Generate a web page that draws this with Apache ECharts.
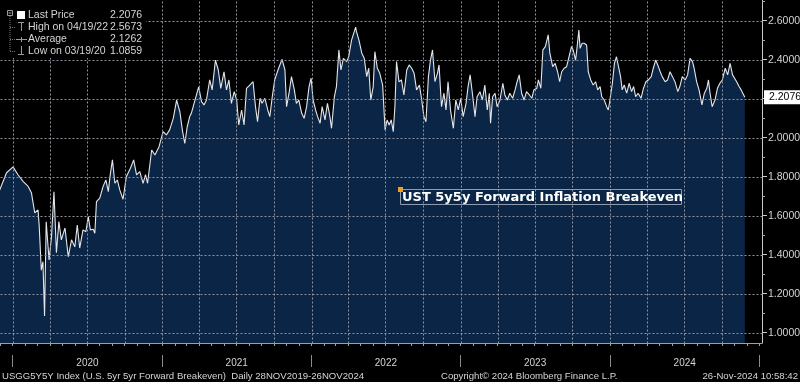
<!DOCTYPE html>
<html><head><meta charset="utf-8">
<script src="https://cdn.jsdelivr.net/npm/echarts@6/dist/echarts.min.js"></script>
<style>html,body{margin:0;padding:0;background:#000;}#c{width:800px;height:382px;}</style>
</head><body><div id="c"></div>
<script>
// ---- data ----
const dates = [
'2019-11-28','2019-12-17','2020-01-02','2020-01-14','2020-01-27','2020-02-08','2020-02-16','2020-02-24','2020-03-03','2020-03-06',
'2020-03-11','2020-03-15','2020-03-19','2020-03-23','2020-03-30','2020-04-05','2020-04-11','2020-04-17','2020-04-23','2020-04-29',
'2020-05-08','2020-05-16','2020-05-24','2020-06-01','2020-06-07','2020-06-13','2020-06-21','2020-06-28','2020-07-04','2020-07-09',
'2020-07-16','2020-07-20','2020-07-24','2020-08-01','2020-08-09','2020-08-16','2020-08-22','2020-08-26','2020-09-01','2020-09-07',
'2020-09-13','2020-09-19','2020-09-27','2020-10-05','2020-10-15','2020-10-23','2020-10-30','2020-11-07','2020-11-15','2020-11-21',
'2020-11-26','2020-12-06','2020-12-14','2020-12-24','2021-01-03','2021-01-11','2021-01-19','2021-01-28','2021-02-05','2021-02-13',
'2021-02-19','2021-02-25','2021-03-03','2021-03-09','2021-03-13','2021-03-22','2021-03-31','2021-04-07','2021-04-13','2021-04-19',
'2021-04-27','2021-05-03','2021-05-11','2021-05-18','2021-05-24','2021-06-01','2021-06-07','2021-06-13','2021-06-19','2021-06-26',
'2021-07-02','2021-07-07','2021-07-14','2021-07-20','2021-07-26','2021-08-03','2021-08-11','2021-08-17','2021-08-22','2021-08-28',
'2021-09-02','2021-09-09','2021-09-16','2021-09-21','2021-09-27','2021-10-03','2021-10-11','2021-10-21','2021-10-28','2021-11-01',
'2021-11-07','2021-11-13','2021-11-20','2021-11-25','2021-12-01','2021-12-08','2021-12-14','2021-12-20','2021-12-26','2021-12-31',
'2022-01-05','2022-01-11','2022-01-16','2022-01-22','2022-01-27','2022-02-03','2022-02-09','2022-02-15','2022-02-19','2022-02-26',
'2022-03-03','2022-03-09','2022-03-14','2022-03-20','2022-03-28','2022-04-02','2022-04-09','2022-04-19','2022-04-21','2022-04-27',
'2022-05-04','2022-05-10','2022-05-16','2022-05-21','2022-05-26','2022-06-01','2022-06-05','2022-06-11','2022-06-17','2022-06-24',
'2022-06-27','2022-06-30','2022-07-05','2022-07-10','2022-07-15','2022-07-20','2022-07-24','2022-07-28','2022-08-03','2022-08-09',
'2022-08-15','2022-08-22','2022-08-28','2022-09-03','2022-09-09','2022-09-15','2022-09-22','2022-09-27','2022-10-03','2022-10-08',
'2022-10-14','2022-10-19','2022-10-24','2022-10-30','2022-11-05','2022-11-09','2022-11-15','2022-11-21','2022-11-26','2022-12-01',
'2022-12-07','2022-12-14','2022-12-20','2022-12-26','2023-01-01','2023-01-07','2023-01-14','2023-01-19','2023-01-24','2023-01-30',
'2023-02-05','2023-02-10','2023-02-17','2023-02-23','2023-03-01','2023-03-07','2023-03-12','2023-03-15','2023-03-20','2023-03-26',
'2023-03-31','2023-04-07','2023-04-14','2023-04-19','2023-04-25','2023-05-01','2023-05-08','2023-05-14','2023-05-19','2023-05-24',
'2023-05-30','2023-06-05','2023-06-11','2023-06-18','2023-06-24','2023-06-29','2023-07-06','2023-07-10','2023-07-16','2023-07-21',
'2023-07-27','2023-07-31','2023-08-03','2023-08-07','2023-08-14','2023-08-20','2023-08-26','2023-08-31','2023-09-05','2023-09-11',
'2023-09-17','2023-09-23','2023-09-29','2023-10-03','2023-10-09','2023-10-12','2023-10-17','2023-10-20','2023-10-25','2023-10-30',
'2023-11-05','2023-11-09','2023-11-15','2023-11-21','2023-11-27','2023-12-02','2023-12-08','2023-12-12','2023-12-18','2023-12-24',
'2023-12-28','2024-01-01','2024-01-07','2024-01-12','2024-01-17','2024-01-22','2024-01-27','2024-01-31','2024-02-05','2024-02-11',
'2024-02-17','2024-02-23','2024-02-28','2024-03-04','2024-03-10','2024-03-17','2024-03-23','2024-03-29','2024-04-04','2024-04-11',
'2024-04-16','2024-04-22','2024-04-27','2024-05-03','2024-05-08','2024-05-15','2024-05-21','2024-05-27','2024-06-02','2024-06-08',
'2024-06-15','2024-06-20','2024-06-26','2024-07-03','2024-07-09','2024-07-15','2024-07-21','2024-07-25','2024-07-31','2024-08-06',
'2024-08-13','2024-08-19','2024-08-25','2024-08-29','2024-09-02','2024-09-07','2024-09-14','2024-09-20','2024-09-26','2024-10-02',
'2024-10-09','2024-10-15','2024-10-21','2024-10-27','2024-10-31','2024-11-06','2024-11-12','2024-11-17','2024-11-26'
];
const values = [
1.72,1.82,1.85,1.81,1.775,1.75,1.716,1.614,1.63,1.544,
1.32,1.364,1.0859,1.569,1.373,1.492,1.723,1.41,1.57,1.476,
1.537,1.39,1.476,1.44,1.552,1.434,1.527,1.518,1.595,1.527,
1.53,1.51,1.672,1.69,1.749,1.783,1.723,1.80,1.886,1.766,
1.783,1.732,1.684,1.80,1.843,1.886,1.809,1.826,1.766,1.81,
1.766,1.937,1.911,1.954,2.031,2.014,2.04,2.10,2.193,2.133,
2.04,1.97,2.056,2.108,2.125,2.193,2.26,2.185,2.168,2.193,
2.296,2.245,2.398,2.347,2.253,2.338,2.245,2.296,2.176,2.236,
2.193,2.065,2.142,2.065,2.253,2.27,2.287,2.159,2.082,2.202,
2.176,2.202,2.142,2.108,2.21,2.296,2.347,2.402,2.347,2.159,
2.228,2.313,2.245,2.176,2.193,2.125,2.099,2.159,2.262,2.305,
2.193,2.142,2.108,2.074,2.159,2.091,2.176,2.108,2.048,2.21,
2.262,2.45,2.347,2.407,2.39,2.415,2.50,2.5673,2.544,2.50,
2.433,2.407,2.313,2.356,2.193,2.262,2.441,2.356,2.33,2.27,
2.279,2.04,2.091,2.065,2.091,2.031,2.159,2.39,2.287,2.296,
2.219,2.347,2.373,2.356,2.33,2.245,2.27,2.202,2.108,2.082,
2.313,2.398,2.45,2.287,2.33,2.373,2.159,2.228,2.142,2.287,
2.142,2.048,2.193,2.142,2.202,2.108,2.176,2.262,2.322,2.219,
2.108,2.21,2.236,2.193,2.27,2.142,2.228,2.074,2.21,2.228,
2.159,2.193,2.279,2.219,2.193,2.228,2.202,2.245,2.287,2.322,
2.228,2.193,2.236,2.219,2.202,2.245,2.253,2.296,2.253,2.45,
2.467,2.458,2.527,2.433,2.364,2.381,2.338,2.287,2.338,2.356,
2.364,2.415,2.467,2.45,2.398,2.45,2.552,2.458,2.484,2.484,
2.475,2.338,2.296,2.27,2.287,2.245,2.262,2.21,2.193,2.159,
2.142,2.193,2.279,2.381,2.415,2.364,2.313,2.245,2.27,2.228,
2.279,2.236,2.262,2.21,2.228,2.202,2.253,2.287,2.296,2.313,
2.356,2.398,2.373,2.338,2.313,2.287,2.296,2.338,2.313,2.287,
2.236,2.262,2.313,2.296,2.322,2.407,2.39,2.356,2.287,2.245,
2.168,2.228,2.253,2.296,2.228,2.159,2.193,2.253,2.279,2.296,
2.356,2.322,2.381,2.322,2.33,2.287,2.262,2.245,2.2076
];
const yGridTicks = [1.0,1.2,1.4,1.6,1.8,2.0,2.2,2.4,2.6];
const yLabelTicks = [1.0,1.2,1.4,1.6,1.8,2.0,2.4,2.6];
const yMinorTicks = [1.1,1.3,1.5,1.7,1.9,2.1,2.3,2.5,2.7];
const yearLabels = ['2020','2021','2022','2023','2024'];
const legendNames = ['Last Price','High on 04/19/22','Average','Low on 03/19/20'];
const legendValues = ['2.2076','2.5673','2.1262','1.0859'];
const lastValue = 2.2076;
const annotationText = 'UST 5y5y Forward Inflation Breakeven';
const footerLeft = 'USGG5Y5Y Index (U.S. 5yr 5yr Forward Breakeven)  Daily 28NOV2019-26NOV2024';
const footerMid = 'Copyright\u00A9 2024 Bloomberg Finance L.P.';
const footerRight = '26-Nov-2024 10:58:42';

// ---- axis helper values (tick positions, as timestamps on a value axis) ----
const ts = s => { const p = s.split('-').map(Number); return Date.UTC(p[0], p[1]-1, p[2]); };
const xMin = ts('2019-12-01'), xMax = ts('2025-01-07');
const monthTicks = [], quarterTicks = [], yearTicks = [], yearMids = [];
for (let y = 2019; y <= 2025; y++) {
  for (let m = 0; m < 12; m++) {
    const t = Date.UTC(y, m, 1);
    if (t < xMin || t > xMax) continue;
    monthTicks.push(t);
    if (m % 3 === 0 && t < ts('2025-01-01')) quarterTicks.push(t);
    if (m === 0) yearTicks.push(t);
  }
}
yearLabels.forEach(y => yearMids.push(Date.UTC(+y, 6, 2)));

const FONT = '"Liberation Sans", Arial, sans-serif';
const TXT = '#d4d4d4';
const chart = echarts.init(document.getElementById('c'), null, {renderer: 'canvas'});
const yMin = 0.947, yMax = 2.706;

// dotted grid lines, drawn through the axes as a custom series above the area
const gridSegs = [];
yGridTicks.forEach(v => gridSegs.push([xMin, v, xMax, v]));
quarterTicks.forEach(t => gridSegs.push([t, yMin, t, yMax]));

const legendGraphics = [];
legendGraphics.push({type: 'rect', z: 100, shape: {x: 0, y: 0, width: 146, height: 58}, style: {fill: '#000'}});
const rowY = [15, 27, 39, 51];
const LF = '10.5px ' + FONT;
legendNames.forEach((n, i) => {
  legendGraphics.push({type: 'text', z: 101, style: {text: n, x: 28, y: rowY[i], fill: TXT, font: LF, verticalAlign: 'middle'}});
  legendGraphics.push({type: 'text', z: 101, style: {text: legendValues[i], x: 110, y: rowY[i], fill: TXT, font: LF, verticalAlign: 'middle'}});
});
const G = '#9a9a9a';
legendGraphics.push(
  {type: 'rect', z: 101, shape: {x: 7.5, y: 10.5, width: 5, height: 5}, style: {fill: 'none', stroke: G, lineWidth: 1}},
  {type: 'line', z: 101, shape: {x1: 8.5, y1: 13, x2: 11.5, y2: 13}, style: {stroke: G}},
  {type: 'line', z: 101, shape: {x1: 10, y1: 16, x2: 10, y2: 51}, style: {stroke: '#777', lineDash: [1, 1]}},
  {type: 'line', z: 101, shape: {x1: 10, y1: 27.5, x2: 15, y2: 27.5}, style: {stroke: '#777', lineDash: [1, 1]}},
  {type: 'line', z: 101, shape: {x1: 10, y1: 39.5, x2: 15, y2: 39.5}, style: {stroke: '#777', lineDash: [1, 1]}},
  {type: 'line', z: 101, shape: {x1: 10, y1: 51.5, x2: 15, y2: 51.5}, style: {stroke: '#777', lineDash: [1, 1]}},
  {type: 'rect', z: 101, shape: {x: 17, y: 11, width: 8, height: 8}, style: {fill: '#fff'}},
  {type: 'line', z: 101, shape: {x1: 18, y1: 22.5, x2: 24, y2: 22.5}, style: {stroke: G}},
  {type: 'line', z: 101, shape: {x1: 21.5, y1: 22.5, x2: 21.5, y2: 31}, style: {stroke: G}},
  {type: 'line', z: 101, shape: {x1: 16, y1: 39.5, x2: 27, y2: 39.5}, style: {stroke: G}},
  {type: 'line', z: 101, shape: {x1: 21.5, y1: 37, x2: 21.5, y2: 42}, style: {stroke: G}},
  {type: 'line', z: 101, shape: {x1: 21.5, y1: 46, x2: 21.5, y2: 54.5}, style: {stroke: G}},
  {type: 'line', z: 101, shape: {x1: 18, y1: 54.5, x2: 24, y2: 54.5}, style: {stroke: G}}
);

const FF = '9.6px ' + FONT;
const option = {
  backgroundColor: '#000',
  animation: false,
  grid: {left: 0, right: 38, top: 0, bottom: 39, containLabel: false, outerBoundsMode: 'none'},
  xAxis: [
    {type: 'value', min: xMin, max: xMax, position: 'bottom', scale: true,
     axisLine: {show: true, onZero: false, lineStyle: {color: '#a0a0a0', width: 1}},
     axisTick: {show: true, customValues: monthTicks, length: 3, inside: false, lineStyle: {color: '#a0a0a0'}},
     axisLabel: {show: false}, splitLine: {show: false}},
    {type: 'value', min: xMin, max: xMax, position: 'bottom', offset: 12, scale: true,
     axisLine: {show: false, onZero: false},
     axisTick: {show: true, customValues: yearTicks, length: 12, inside: false, lineStyle: {color: '#8a8a8a'}},
     axisLabel: {show: true, customValues: yearMids, margin: 3, color: TXT, fontSize: 10, fontFamily: FONT,
       formatter: v => yearLabels[yearMids.indexOf(v)] || ''},
     splitLine: {show: false}}
  ],
  yAxis: [
    {type: 'value', position: 'right', min: yMin, max: yMax,
     axisLine: {show: true, onZero: false, lineStyle: {color: '#c8c8c8', width: 1}},
     axisTick: {show: true, customValues: yGridTicks, length: 5, lineStyle: {color: '#c8c8c8'}},
     axisLabel: {show: true, customValues: yLabelTicks, formatter: v => v.toFixed(4), color: TXT, fontSize: 10.5, fontFamily: FONT, margin: 6},
     splitLine: {show: false}},
    {type: 'value', position: 'right', min: yMin, max: yMax,
     axisLine: {show: false, onZero: false},
     axisTick: {show: true, customValues: yMinorTicks, length: 3, lineStyle: {color: '#a8a8a8'}},
     axisLabel: {show: false}, splitLine: {show: false}},
    {type: 'value', position: 'right', min: yMin, max: yMax,
     axisLine: {show: false, onZero: false}, axisTick: {show: false}, splitLine: {show: false},
     axisLabel: {show: true, customValues: [lastValue], formatter: v => v.toFixed(4), color: '#000', backgroundColor: '#fff',
       padding: [2, 4, 1, 5], fontSize: 10.5, fontFamily: FONT, margin: 2}}
  ],
  series: [{
    type: 'line', xAxisIndex: 0, yAxisIndex: 0, z: 2,
    data: dates.map((d, i) => [ts(d), values[i]]),
    symbol: 'none', showSymbol: false, clip: true,
    lineStyle: {color: '#e4e6ea', width: 1.1},
    areaStyle: {color: '#0b2546', opacity: 1, origin: 'start'}
  }, {
    type: 'custom', xAxisIndex: 0, yAxisIndex: 0, z: 5, silent: true,
    data: gridSegs,
    encode: {x: [0, 2], y: [1, 3]},
    renderItem: (params, api) => {
      const p1 = api.coord([api.value(0), api.value(1)]);
      const p2 = api.coord([api.value(2), api.value(3)]);
      return {type: 'line', shape: {x1: Math.round(p1[0]) + 0.5, y1: Math.round(p1[1]) + 0.5, x2: Math.round(p2[0]) + 0.5, y2: Math.round(p2[1]) + 0.5},
        style: {stroke: '#8e939c', lineWidth: 1, lineDash: [2, 2], fill: null}};
    }
  }],
  graphic: [
    ...legendGraphics,
    {type: 'rect', z: 50, shape: {x: 400.5, y: 189.5, width: 281, height: 15}, style: {fill: 'none', stroke: '#8f9bb0', lineWidth: 1}},
    {type: 'rect', z: 51, shape: {x: 398, y: 187, width: 5, height: 5}, style: {fill: '#f0a020'}},
    {type: 'text', z: 51, style: {text: annotationText, x: 402, y: 197.5, fill: '#ffffff', font: 'bold 13px "DejaVu Sans", sans-serif', verticalAlign: 'middle'}},
    {type: 'text', z: 51, style: {text: footerLeft, x: 2, y: 376, fill: TXT, font: FF, verticalAlign: 'middle'}},
    {type: 'text', z: 51, style: {text: footerMid, x: 441, y: 376, fill: TXT, font: FF, verticalAlign: 'middle'}},
    {type: 'text', z: 51, style: {text: footerRight, x: 798, y: 376, fill: TXT, font: FF, verticalAlign: 'middle', align: 'right'}}
  ]
};
chart.setOption(option);
</script>
</body></html>
